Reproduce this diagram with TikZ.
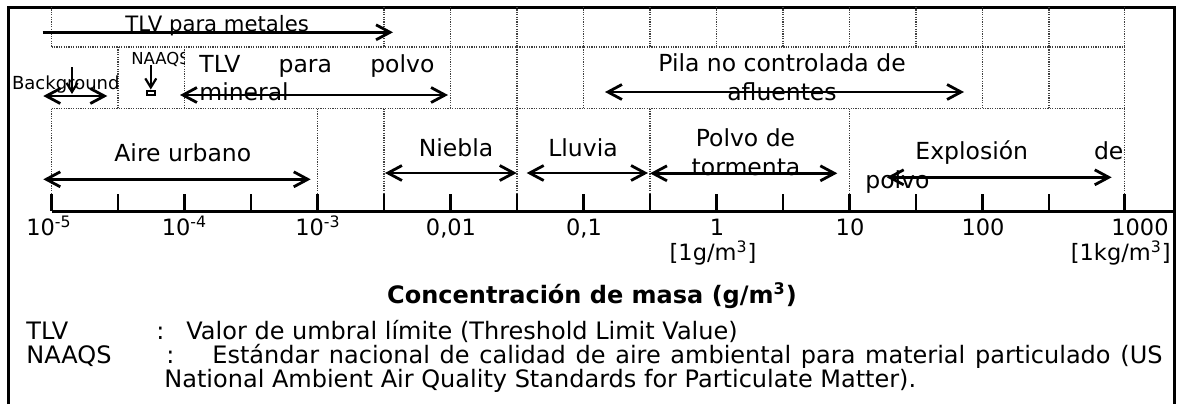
\documentclass[tikz,border=0pt]{standalone}
\usepackage{fontspec}
\setmainfont{DejaVu Sans}
\usetikzlibrary{arrows.meta}
\begin{document}
\begin{tikzpicture}[x=0.5pt,y=-0.5pt,
  frameline/.style={line width=1.5pt},
  gridline/.style={line width=0.6pt, black!75, dash pattern=on 0.6pt off 0.6pt},
  tickline/.style={line width=1.3pt},
  barb/.tip={Straight Barb[length=7pt,width=7.5pt]},
  rangeLR/.style={line width=1.4pt, barb-barb},
  rangeR/.style={line width=1.4pt, -barb},
  downarr/.style={line width=1.1pt, -{Straight Barb[length=4.5pt,width=5.5pt]}},
  lbl/.style={inner sep=0pt, font=\fontsize{11.75}{14}\selectfont},
  lblm/.style={inner sep=0pt, font=\fontsize{10.6}{13}\selectfont},
  lbls/.style={inner sep=0pt, font=\fontsize{9}{11}\selectfont},
  lblxs/.style={inner sep=0pt, font=\fontsize{8.25}{10}\selectfont},
  tck/.style={inner sep=0pt, font=\fontsize{11.25}{13}\selectfont},
  leg/.style={inner sep=0pt, font=\fontsize{12}{14}\selectfont},
  ttl/.style={inner sep=0pt, font=\fontsize{12}{14}\selectfont\bfseries}]
\useasboundingbox (0,0) rectangle (1179,404);
% frame
\draw[frameline] (8,404) -- (8,7) -- (1174,7) -- (1174,404);
% grid
\foreach \x in {51.5,384,450.5,517,583.5,650,716.5,783,849.5,916,982.5,1049,1124.5}
  \draw[gridline] (\x,7) -- (\x,47);
\foreach \x in {118,184.5,450.5,517,583.5,982.5,1049,1124.5}
  \draw[gridline] (\x,47) -- (\x,108.5);
\foreach \x in {51.5,317.5,384,517,650,849.5,1124.5}
  \draw[gridline] (\x,108.5) -- (\x,211);
\draw[gridline] (51.5,47) -- (1124.5,47);
\draw[gridline] (51.5,108.5) -- (1124.5,108.5);
% axis
\draw[line width=1.5pt] (51.5,211) -- (1174,211);
\foreach \k in {0,...,15}
  \draw[tickline] (51.5+66.5*\k,194) -- (51.5+66.5*\k,211);
\draw[tickline] (1124.5,194) -- (1124.5,211);
% tick labels
\node[tck, anchor=base] (t0) at (49,235) {10\textsuperscript{-5}};
\node[tck, anchor=base] (t1) at (184.5,235) {10\textsuperscript{-4}};
\node[tck, anchor=base] (t2) at (318,235) {10\textsuperscript{-3}};
\node[tck, anchor=base] (t3) at (451,235) {0,01};
\node[tck, anchor=base] (t4) at (584,235) {0,1};
\node[tck, anchor=base] (t5) at (717,235) {1};
\node[tck, anchor=base] (t6) at (850,235) {10};
\node[tck, anchor=base] (t7) at (983,235) {100};
\node[tck, anchor=base east] (t8) at (1169,235) {1000};
\node[tck, anchor=base] (u1) at (713,260) {[1g/m\textsuperscript{3}]};
\node[tck, anchor=base east] (u2) at (1171,260) {[1kg/m\textsuperscript{3}]};
% row 1
\node[lblm, anchor=base west] (metal) at (125,31.5) {TLV para metales};
\coordinate (metalA) at (42.7,32.3);
\coordinate (metalB) at (393,32.3);
\draw[rangeR] (metalA) -- (metalB);
% row 2
\node[lbls, anchor=base west] (bg) at (11.7,89) {Background};
\coordinate (bgA) at (43.3,96);
\coordinate (bgB) at (107.3,96);
\draw[rangeLR] (bgA) -- (bgB);
\coordinate (bgT) at (72,67);
\coordinate (bgD) at (72,94);
\draw[downarr] (bgT) -- (bgD);
\begin{scope}
\clip (118,47) rectangle (184.5,108.5);
\node[lblxs, anchor=base west] (naaqs) at (131,64.3) {NAAQS};
\end{scope}
\coordinate (naT) at (150.8,65);
\coordinate (naD) at (150.8,89.5);
\draw[downarr] (naT) -- (naD);
\node[draw, line width=0.8pt, minimum width=4pt, minimum height=2pt, inner sep=0pt] (nabox) at (150.8,93) {};
\node[lbl, anchor=base west] (polvo1) at (199,72.3) {\makebox[117.5pt][s]{TLV para polvo}};
\node[lbl, anchor=base west] (polvo2) at (199,100) {mineral};
\coordinate (polA) at (180,95);
\coordinate (polB) at (448,95);
\draw[rangeLR] (polA) -- (polB);
\node[lbl, anchor=base] (pila1) at (782,71.7) {Pila no controlada de};
\node[lbl, anchor=base] (pila2) at (782,100) {afluentes};
\coordinate (pilA) at (605,92);
\coordinate (pilB) at (964,92);
\draw[rangeLR] (pilA) -- (pilB);
% row 3
\node[lbl, anchor=base west] (aire) at (114,161.7) {Aire urbano};
\coordinate (aireA) at (43.3,179.3);
\coordinate (aireB) at (310.7,179.3);
\draw[rangeLR] (aireA) -- (aireB);
\node[lbl, anchor=base] (niebla) at (456,156.7) {Niebla};
\coordinate (nieA) at (385,173);
\coordinate (nieB) at (516.7,173);
\draw[rangeLR] (nieA) -- (nieB);
\node[lbl, anchor=base] (lluvia) at (583,156.7) {Lluvia};
\coordinate (llA) at (526.7,173);
\coordinate (llB) at (648,173);
\draw[rangeLR] (llA) -- (llB);
\node[lbl, anchor=base] (torm1) at (745.5,146.7) {Polvo de};
\node[lbl, anchor=base] (torm2) at (746,175) {tormenta};
\coordinate (tormA) at (650,173.3);
\coordinate (tormB) at (837.3,173.3);
\draw[rangeLR] (tormA) -- (tormB);
\node[lbl, anchor=base west] (expl1) at (915,159.3) {\makebox[104pt][s]{Explosión de}};
\node[lbl, anchor=base west] (expl2) at (865,188.3) {polvo};
\coordinate (exA) at (886.7,177.3);
\coordinate (exB) at (1111.7,177.3);
\draw[rangeLR] (exA) -- (exB);
% title and legend
\node[ttl, anchor=base] (title) at (592,303) {Concentración de masa (g/m\textsuperscript{3})};
\node[leg, anchor=base west] (k1) at (26,339) {TLV};
\node[leg, anchor=base west] (c1) at (156,339) {:};
\node[leg, anchor=base west] (d1) at (186,339) {Valor de umbral límite (Threshold Limit Value)};
\node[leg, anchor=base west] (k2) at (26,363) {NAAQS};
\node[leg, anchor=base west] (c2) at (166,363) {:};
\node[leg, anchor=base west] (d2) at (212,363) {\makebox[475pt][s]{Estándar nacional de calidad de aire ambiental para material particulado (US}};
\node[leg, anchor=base west] (d3) at (164,387) {National Ambient Air Quality Standards for Particulate Matter).};
\end{tikzpicture}
\end{document}
